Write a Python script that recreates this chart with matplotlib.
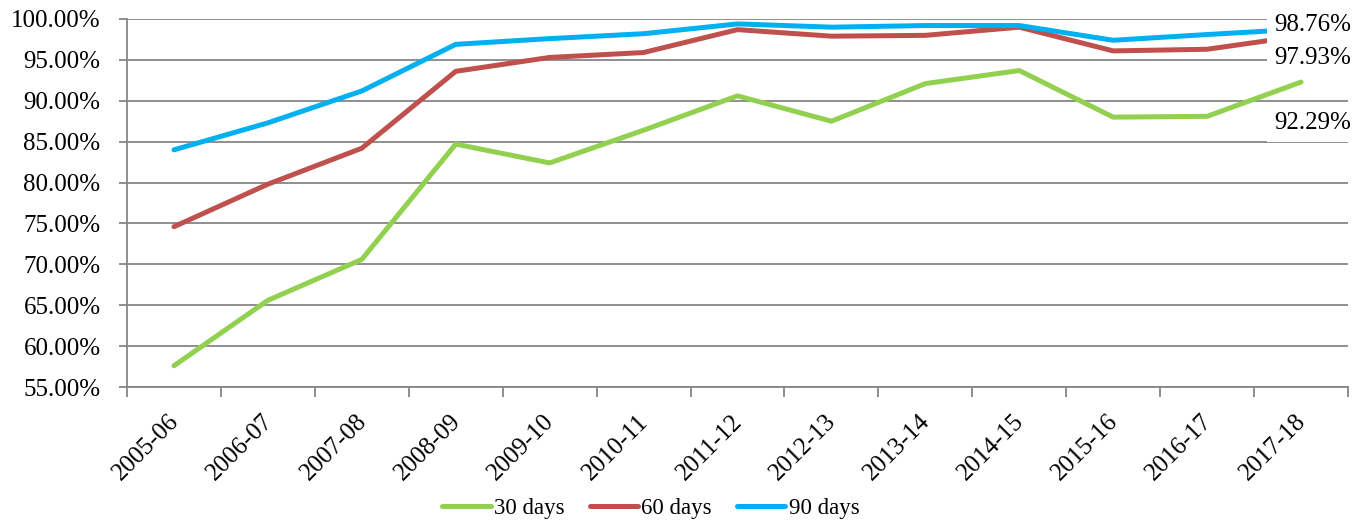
import matplotlib
matplotlib.use("Agg")
import matplotlib.pyplot as plt
import matplotlib.transforms as mtransforms
from matplotlib.ticker import FixedLocator, FuncFormatter

plt.rcParams['font.family'] = ['Liberation Serif', 'DejaVu Serif']
plt.rcParams['font.size'] = 18

years = ["2005-06", "2006-07", "2007-08", "2008-09", "2009-10", "2010-11", "2011-12",
         "2012-13", "2013-14", "2014-15", "2015-16", "2016-17", "2017-18"]
days_30 = [57.6, 65.6, 70.6, 84.7, 82.4, 86.4, 90.6, 87.5, 92.1, 93.7, 88.0, 88.1, 92.29]
days_60 = [74.6, 79.8, 84.2, 93.6, 95.3, 95.9, 98.7, 97.9, 98.0, 99.0, 96.1, 96.3, 97.93]
days_90 = [84.0, 87.3, 91.2, 96.9, 97.6, 98.2, 99.4, 99.0, 99.2, 99.2, 97.4, 98.1, 98.76]
series_names = ["30 days", "60 days", "90 days"]
colors = ["#92D050", "#C0504D", "#00B0F0"]
y_ticks = [55, 60, 65, 70, 75, 80, 85, 90, 95, 100]

axis_gray = "#868686"

fig = plt.figure(figsize=(13.58, 5.21), dpi=100)
ax = fig.add_axes([127 / 1358, 1 - 387 / 521, (1348 - 127) / 1358, (387 - 19) / 521])

x = list(range(len(years)))
handles = []
for vals, name, col in zip([days_30, days_60, days_90], series_names, colors):
    h, = ax.plot(x, vals, color=col, lw=3.6, solid_capstyle='round',
                 solid_joinstyle='round', label=name, zorder=3)
    handles.append(h)

ax.set_xlim(-0.5, len(years) - 0.5)
ax.set_ylim(55, 100)

# y axis: percent labels with two decimals, horizontal gridlines
ax.yaxis.set_major_locator(FixedLocator(y_ticks))
ax.yaxis.set_major_formatter(FuncFormatter(lambda v, p: f"{v:.2f}%"))
ax.grid(axis='y', color=axis_gray, lw=1.3, zorder=1)
ax.tick_params(axis='y', length=6, width=1.3, color=axis_gray, pad=13, labelsize=18)

# x axis: category labels at centres, tick marks at category boundaries
ax.set_xticks(x)
ax.set_xticklabels(years, rotation=45, ha='right', va='top')
ax.set_xticks([i - 0.5 for i in range(len(years) + 1)], minor=True)
ax.tick_params(axis='x', which='major', length=0, pad=17, labelsize=18)
ax.tick_params(axis='x', which='minor', length=7, width=1.3, color=axis_gray)
shift = mtransforms.ScaledTranslation(9 / 100, 0, fig.dpi_scale_trans)
for lab in ax.get_xticklabels():
    lab.set_transform(lab.get_transform() + shift)

for side in ['top', 'right']:
    ax.spines[side].set_visible(False)
for side in ['left', 'bottom']:
    ax.spines[side].set_color(axis_gray)
    ax.spines[side].set_linewidth(1.3)
ax.set_axisbelow(True)

# end-of-series value labels with white boxes
last = len(years) - 1
label_offsets = [(-27, -41), (-27, -22), (-27, 4)]
for vals, (dx, dy) in zip([days_30, days_60, days_90], label_offsets):
    ax.annotate(f"{vals[-1]:.2f}%", xy=(last, vals[-1]), xytext=(dx, dy),
                textcoords='offset pixels', ha='left', va='center', fontsize=18,
                bbox=dict(boxstyle='square,pad=0.3', fc='white', ec='none'),
                zorder=5, annotation_clip=False)

fig.legend(handles=handles, loc='center', bbox_to_anchor=(651 / 1358, 1 - 508 / 521),
           ncol=3, frameon=False, fontsize=16.5, handlelength=2.1, handletextpad=0.15,
           columnspacing=1.1, borderpad=0, borderaxespad=0)

fig.savefig("out.png", dpi=100)
